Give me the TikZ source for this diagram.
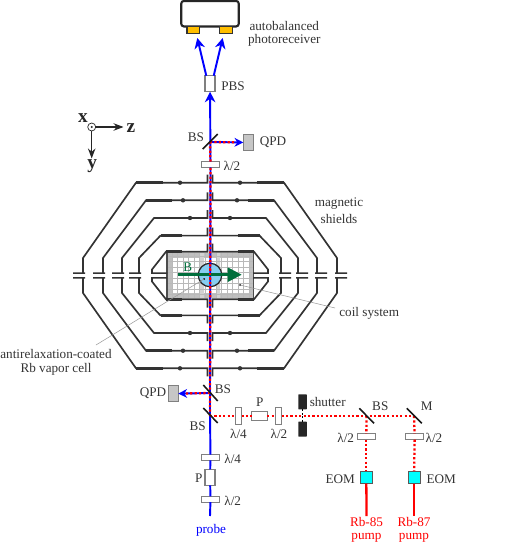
\documentclass[tikz,border=0pt]{standalone}
\usepackage{fontspec}
\setmainfont{Liberation Serif}
\usetikzlibrary{arrows.meta}
\definecolor{eomcyan}{RGB}{0,255,255}
\definecolor{cellblue}{RGB}{135,206,240}
\definecolor{footyellow}{RGB}{255,190,0}
\definecolor{fieldgreen}{RGB}{0,110,60}
\definecolor{purered}{RGB}{255,0,0}
\definecolor{pureblue}{RGB}{0,0,255}
\tikzset{
    lbl/.style={inner sep=0pt, text=black!80, font=\fontsize{7.5}{8}\selectfont},
    axislbl/.style={inner sep=0pt, black!85, font=\fontsize{11}{11}\selectfont\bfseries},
    redlbl/.style={lbl, text=purered},
    optic/.style={draw=gray, fill=white, line width=0.6pt, inner sep=0pt, outer sep=0pt},
    hplate/.style={optic, minimum width=0.35cm, minimum height=0.115cm},
    vplate/.style={optic, minimum width=0.12cm, minimum height=0.35cm},
    cube/.style={optic, minimum width=0.2cm, minimum height=0.32cm},
    qpd/.style={optic, fill=gray!45, minimum width=0.2cm, minimum height=0.31cm},
    eom/.style={draw=gray!70!black, fill=eomcyan, line width=0.5pt, inner sep=0pt, outer sep=0pt, minimum width=0.24cm, minimum height=0.25cm},
    shut/.style={fill=black!85, rounded corners=0.3pt, inner sep=0pt, outer sep=0pt, minimum width=0.17cm, minimum height=0.3cm},
    foot/.style={draw=black!80, fill=footyellow, line width=0.8pt, inner sep=0pt, outer sep=0pt, minimum width=0.25cm, minimum height=0.13cm},
    mirror/.style={line width=0.9pt, black!90},
    probe/.style={pureblue, line width=1.1pt},
    pump/.style={purered, line width=1.3pt},
    pumpdots/.style={purered, line width=1.3pt, dash pattern=on 1.25pt off 1.25pt},
    shield/.style={black!80, line width=0.95pt},
    shieldthick/.style={black!80, line width=1.4pt},
}
\begin{document}
\begin{tikzpicture}[>=Stealth, x=0.02cm, y=-0.02cm]
    \useasboundingbox (0,0) rectangle (512,544);

    % Coil system
    \fill[gray!50] (167,252.7) rectangle (254,298);
    \fill[white] (172,258) rectangle (249,293);
    \fill[gray!35] (200,252.7) rectangle (204,298) (216,252.7) rectangle (220,298);
    \foreach \x in {172,177.5,...,250}
        \draw[gray!55, line width=0.2pt] (\x,252.7) -- (\x,298);
    \foreach \y in {256,261.5,...,298}
        \draw[gray!55, line width=0.2pt] (167,\y) -- (254,\y);
    \draw[black!70, line width=0.9pt] (167,252) -- (167,299) (253.5,252) -- (253.5,299);

    % Magnetic shields
    \foreach \sx in {1,-1} {
        \foreach \sy in {1,-1} {
            \begin{scope}[shift={(210,275.5)}, xscale=\sx, yscale=\sy]
                \foreach \h/\cor/\side/\thk/\dotx in {92.8/74/127/47/30, 75.2/64/107/38/27, 57.5/56/88/37/20, 39.9/49.5/71/28/0} {
                    \draw[shield] (2.5,\h+8) -- (2.5,\h) -- (\cor,\h) -- (\side,17.5) -- (\side,2.4) (\side-2,2.4) -- (\side+10,2.4);
                    \draw[shieldthick] (\thk,\h) -- (\cor,\h);
                    \ifnum\dotx>0 \fill[black!80] (\dotx,\h) circle (2.2); \fi
                }
                \draw[shield] (2.5,32) -- (2.5,23.8) -- (44,23.8) -- (58,6) -- (58,2.4) -- (43,2.4);
                \draw[shieldthick] (28,23.8) -- (44,23.8);
            \end{scope}
        }
    }

    % Cell
    \node[draw=black!85, fill=cellblue, line width=0.7pt, circle, inner sep=0pt, minimum size=0.47cm] (cell) at (210,275) {};

    % Optics
    \coordinate (bstop) at (210,142);
    \coordinate (bsqa) at (210,393);
    \coordinate (bsqb) at (210,416);
    \coordinate (bspump) at (366.5,416);
    \coordinate (mpump) at (414,416);
    \coordinate (probestart) at (210,516);
    \coordinate (rbfive) at (366.5,516);
    \coordinate (rbseven) at (414,516);
    \coordinate (arra) at (197.3,38);
    \coordinate (arrb) at (222.7,38);

    \node[draw=black!85, fill=white, line width=1.2pt, rounded corners=1.5pt, inner sep=0pt, minimum width=1.15cm, minimum height=0.51cm] (receiver) at (210,13.7) {};
    \node[foot] (feeta) at (193.3,30) {};
    \node[foot] (feetb) at (226,30) {};
    \node[cube] (pbs) at (210,83.7) {};
    \node[hplate] (lamtop) at (210.5,164.5) {};
    \node[qpd] (qpdtop) at (248.3,142.5) {};
    \node[qpd] (qpdbot) at (173.3,393.7) {};
    \node[vplate] (lamfourh) at (238.5,416) {};
    \node[optic, minimum width=0.31cm, minimum height=0.19cm] (polh) at (259.5,416) {};
    \node[vplate] (lamtwoh) at (278.7,416) {};
    \node[shut] (shuta) at (302.5,401.8) {};
    \node[shut] (shutb) at (302.5,429.2) {};
    \node[hplate] (lamfourp) at (210.5,457.5) {};
    \node[cube] (polp) at (210,477.3) {};
    \node[hplate] (lamtwop) at (210.5,499.2) {};
    \node[hplate] (lamfive) at (366.3,436.7) {};
    \node[hplate] (lamseven) at (414.7,436.7) {};
    \node[eom] (eomfive) at (366.3,477.3) {};
    \node[eom] (eomseven) at (414,477.3) {};

    % Beams
    \draw[probe] (probestart) -- (lamtwop);
    \draw[probe] (lamtwop) -- (polp);
    \draw[probe] (polp) -- (lamfourp);
    \draw[probe] (lamfourp) -- (bsqb) -- (bsqa) -- (lamtop);
    \draw[probe, -{Stealth[length=6pt, width=6pt]}] (lamtop) -- (pbs);
    \draw[probe, -{Stealth[length=6pt, width=6pt]}] (pbs.115) -- (arra);
    \draw[probe, -{Stealth[length=6pt, width=6pt]}] (pbs.65) -- (arrb);
    \draw[pumpdots] (bsqb) -- (lamtop);
    \draw[pumpdots] (lamtop) -- (bstop);
    \draw[probe, -{Stealth[length=5pt, width=5pt]}] (bstop) -- (qpdtop);
    \draw[pumpdots, shorten >=4pt] (bstop) -- (qpdtop);
    \draw[probe, -{Stealth[length=5pt, width=5pt]}] (bsqa) -- (qpdbot);
    \draw[pumpdots, shorten >=4pt] (bsqa) -- (qpdbot);
    \draw[pumpdots] (bsqb) -- (lamfourh);
    \draw[pumpdots] (lamfourh) -- (polh);
    \draw[pumpdots] (polh) -- (lamtwoh);
    \draw[pumpdots] (lamtwoh) -- (mpump);
    \draw[pumpdots] (bspump) -- (lamfive);
    \draw[pumpdots] (lamfive) -- (eomfive);
    \draw[pumpdots] (mpump) -- (lamseven);
    \draw[pumpdots] (lamseven) -- (eomseven);
    \draw[pump] (eomfive) -- (rbfive);
    \draw[pump] (eomseven) -- (rbseven);
    \draw[black, line width=0.8pt, dash pattern=on 1pt off 1pt] (shuta) -- (shutb);

    % Field arrow
    \draw[fieldgreen, line width=1.4pt, -{Triangle[length=8pt, width=8pt]}] (178,274.7) -- (241.7,274.7);
    \draw[pumpdots] (210,264) -- (210,287);

    % Mirrors
    \draw[mirror] (202.7,149) -- (217.7,134);
    \draw[mirror] (203.3,385) -- (217.7,401);
    \draw[mirror] (203.3,408) -- (217.7,423);
    \draw[mirror] (359.3,408.3) -- (374,423.3);
    \draw[mirror] (406.7,408.3) -- (421.7,423.3);

    % Leaders
    \fill[black] (204,279) circle (1);
    \fill[black] (240,285) circle (1);
    \node[lbl] (antilbl) at (56,354) {antirelaxation-coated};
    \node[lbl] (vaporlbl) at (56,369) {Rb vapor cell};
    \node[lbl, anchor=west] (coillbl) at (339,313) {coil system};
    \coordinate (antiend) at (96,345);
    \coordinate (coilend) at (335,308);
    \draw[gray!80, line width=0.3pt] (204,279) -- (antiend);
    \draw[gray!80, line width=0.3pt] (240,285) -- (coilend);

    % Axes
    \coordinate (axz) at (123.5,127);
    \coordinate (axy) at (91.7,158.5);
    \node[draw=black!85, circle, line width=0.4pt, fill=white, inner sep=0pt, minimum size=0.16cm] (axo) at (91.7,127) {};
    \fill[black!85] (axo) circle (1.1);
    \draw[->, black!85, line width=0.6pt] (axo) -- (axz);
    \draw[->, black!85, line width=0.6pt] (axo) -- (axy);
    \node[axislbl] (xlbl) at (83,118) {x};
    \node[axislbl] (zlbl) at (131,128) {z};
    \node[axislbl] (ylbl) at (92.3,166) {y};

    % Labels
    \node[lbl] (autolbl) at (284.3,25.5) {autobalanced};
    \node[lbl] (photolbl) at (284.3,40) {photoreceiver};
    \node[lbl] (pbslbl) at (233,86) {PBS};
    \node[lbl] (bstoplbl) at (196,137) {BS};
    \node[lbl] (qpdtoplbl) at (273,142.5) {QPD};
    \node[lbl] (lamtoplbl) at (232,165.5) {λ/2};
    \node[lbl] (maglbl) at (339,204) {magnetic};
    \node[lbl] (shieldlbl) at (339,219) {shields};
    \node[lbl, text=fieldgreen] (blbl) at (187.7,267) {B};
    \node[lbl] (qpdbotlbl) at (153,393) {QPD};
    \node[lbl] (bsqalbl) at (223,389) {BS};
    \node[lbl] (bsqblbl) at (197.7,425.7) {BS};
    \node[lbl] (lamfourhlbl) at (238.5,433.5) {λ/4};
    \node[lbl] (plbl) at (259.7,402.5) {P};
    \node[lbl] (lamtwohlbl) at (279,433.5) {λ/2};
    \node[lbl] (shutlbl) at (327.7,402) {shutter};
    \node[lbl] (lamfourplbl) at (232.7,458.5) {λ/4};
    \node[lbl] (pplbl) at (198.7,478.5) {P};
    \node[lbl] (lamtwoplbl) at (232.7,501) {λ/2};
    \node[lbl, text=pureblue] (probelbl) at (211,530.5) {probe};
    \node[lbl] (bslbl) at (380.3,405.7) {BS};
    \node[lbl] (mlbl) at (426.7,406) {M};
    \node[lbl] (lamfivelbl) at (345.7,437.5) {λ/2};
    \node[lbl] (lamsevenlbl) at (434,437.5) {λ/2};
    \node[lbl] (eomfivelbl) at (340.3,478.7) {EOM};
    \node[lbl] (eomsevenlbl) at (441.3,478.7) {EOM};
    \node[redlbl] (rbfivelbl) at (366.5,522.3) {Rb-85};
    \node[redlbl] (pumpfivelbl) at (366.5,537.7) {pump};
    \node[redlbl] (rbsevenlbl) at (414,522.3) {Rb-87};
    \node[redlbl] (pumpsevenlbl) at (414,537.7) {pump};

\end{tikzpicture}
\end{document}
